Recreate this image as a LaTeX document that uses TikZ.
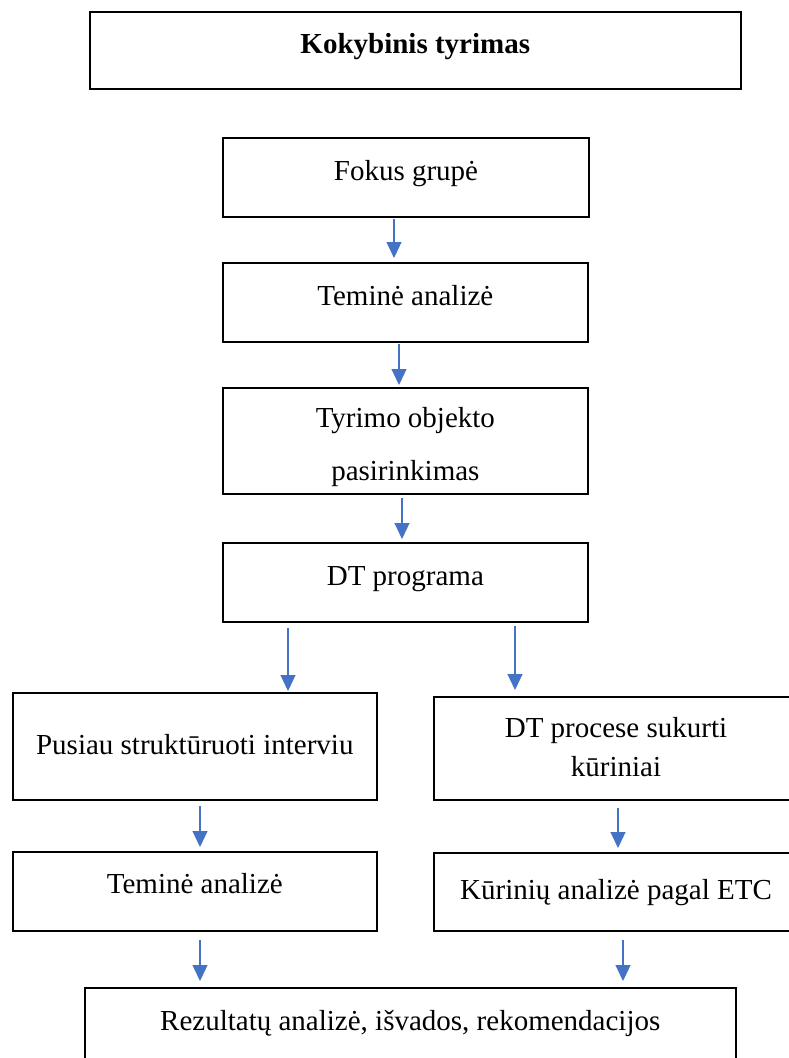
\documentclass[tikz,border=0pt]{standalone}
\usepackage{fontspec}
\setmainfont{Liberation Serif}
\usetikzlibrary{arrows.meta}
\definecolor{arrblue}{HTML}{4472C4}
\begin{document}
\begin{tikzpicture}[x=1pt,y=-1pt,
  box/.style={draw=black, line width=2pt, inner xsep=0pt, inner ysep=0pt,
    font=\fontsize{29}{34}\selectfont},
  arr/.style={draw=arrblue, line width=1.2pt, -{Triangle[length=16pt,width=15pt]}}]
\useasboundingbox (0,0) rectangle (789,1058);
\clip (0,0) rectangle (789,1058);

\node[box, minimum width=651pt, text height=41.3pt, text depth=36.3pt,
  font=\bfseries\fontsize{29}{34}\selectfont] (title) at (415.3,50.5) {Kokybinis tyrimas};

\node[box, minimum width=366pt, text height=42pt, text depth=37pt] (fokus) at (406,177.5) {Fokus grupė};
\node[box, minimum width=365.3pt, text height=42pt, text depth=37pt] (tem1) at (405.35,302.5) {Teminė analizė};
\node[box, minimum width=365.3pt, text height=39pt, text depth=67pt] (tyr) at (405.35,441)
  {\parbox[t]{360pt}{\centering Tyrimo objekto\\[19pt] pasirinkimas}};
\node[box, minimum width=365.3pt, text height=42pt, text depth=37pt] (dt) at (405.35,582.5) {DT programa};

\node[box, minimum width=364.4pt, text height=61pt, text depth=46pt] (pus) at (194.8,746.5) {Pusiau struktūruoti interviu};
\node[box, minimum width=364pt, text height=40pt, text depth=63pt] (dtp) at (616,748.5)
  {\parbox[t]{360pt}{\centering DT procese sukurti\\[5pt] kūriniai}};

\node[box, minimum width=364.4pt, text height=41pt, text depth=38pt] (tem2) at (194.8,891.5) {Teminė analizė};
\node[box, minimum width=364pt, text height=46pt, text depth=32pt] (kur) at (616,892) {Kūrinių analizė pagal ETC};

\node[box, minimum width=651.5pt, text height=42pt, text depth=37pt] (rez) at (410.25,1027.5) {Rezultatų analizė, išvados, rekomendacijos};

\coordinate (a1) at (394,0);
\coordinate (a2) at (399,0);
\coordinate (a3) at (402,0);
\coordinate (a4) at (288,0);
\coordinate (a5) at (515,0);
\coordinate (a6) at (200,0);
\coordinate (a7) at (618,0);
\coordinate (a8) at (200,0);
\coordinate (a9) at (623,0);

\draw[arr, shorten <=1pt, shorten >=4pt] (a1 |- fokus.south) -- (a1 |- tem1.north);
\draw[arr, shorten <=1pt, shorten >=2pt] (a2 |- tem1.south) -- (a2 |- tyr.north);
\draw[arr, shorten <=3pt, shorten >=3pt] (a3 |- tyr.south) -- (a3 |- dt.north);
\draw[arr, shorten <=5pt, shorten >=1pt] (a4 |- dt.south) -- (a4 |- pus.north);
\draw[arr, shorten <=3pt, shorten >=6pt] (a5 |- dt.south) -- (a5 |- dtp.north);
\draw[arr, shorten <=5pt, shorten >=4pt] (a6 |- pus.south) -- (a6 |- tem2.north);
\draw[arr, shorten <=7pt, shorten >=4pt] (a7 |- dtp.south) -- (a7 |- kur.north);
\draw[arr, shorten <=8pt, shorten >=6pt] (a8 |- tem2.south) -- (a8 |- rez.north);
\draw[arr, shorten <=8pt, shorten >=6pt] (a9 |- kur.south) -- (a9 |- rez.north);
\end{tikzpicture}
\end{document}
